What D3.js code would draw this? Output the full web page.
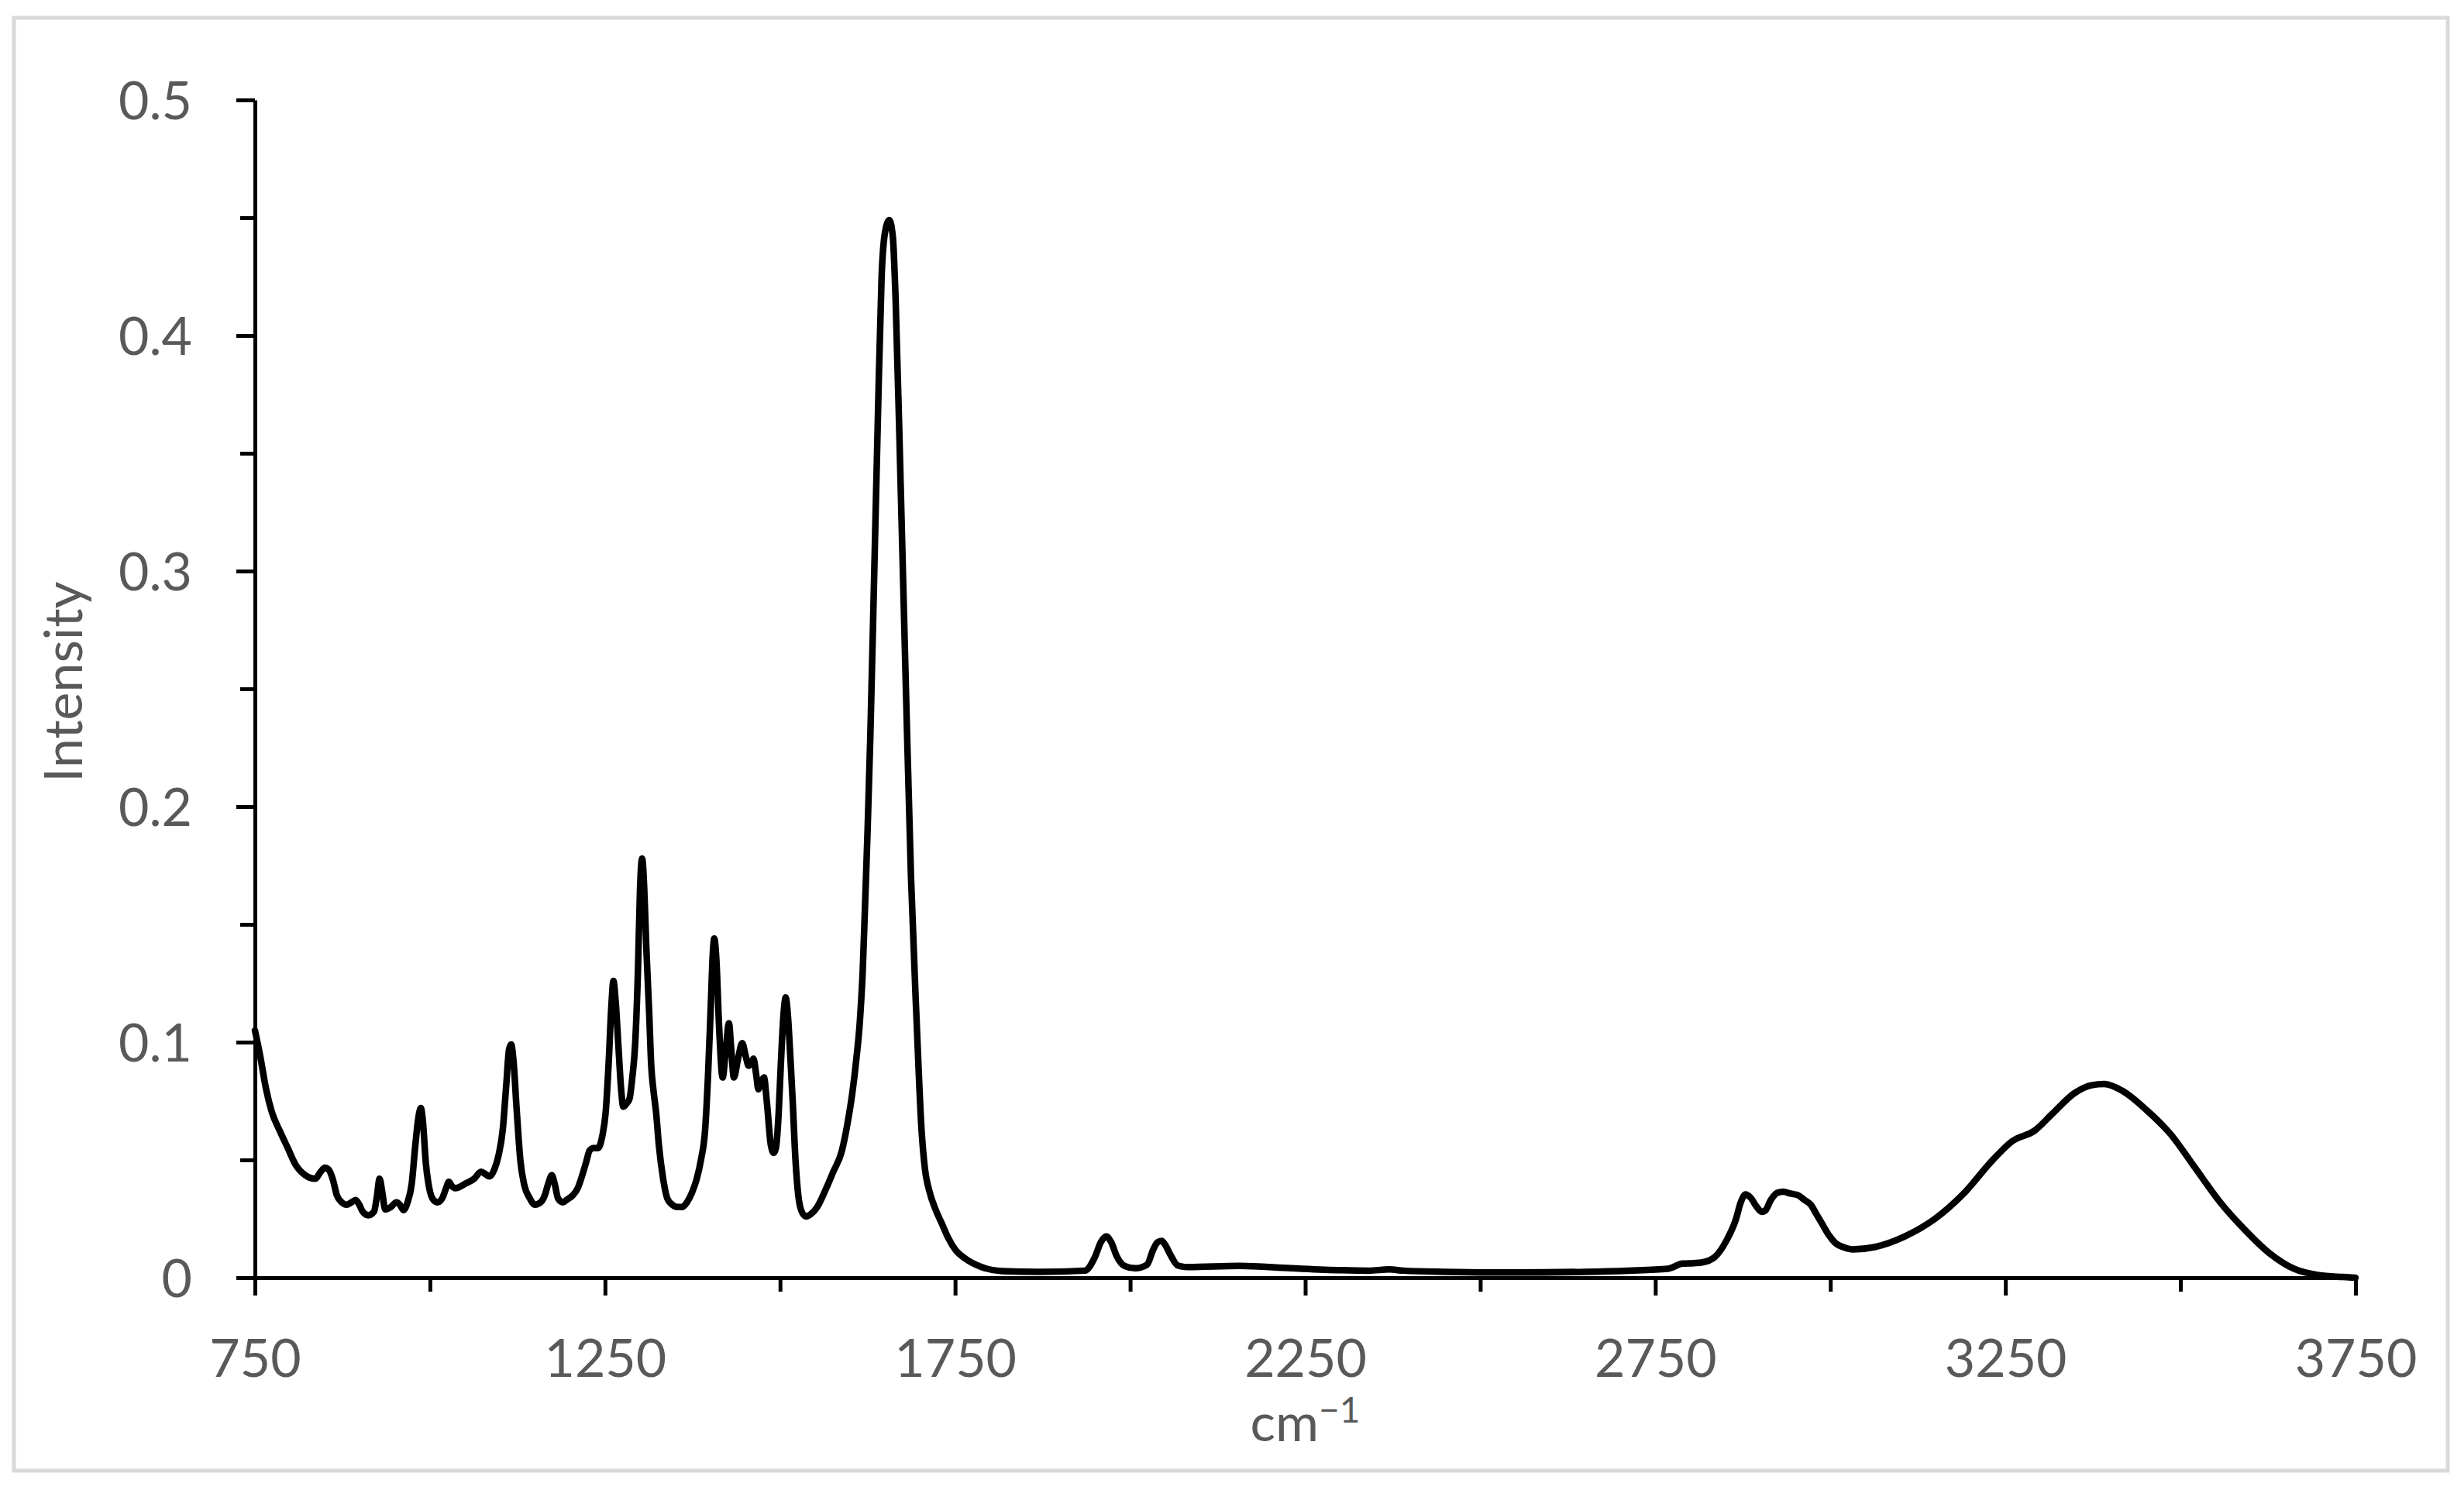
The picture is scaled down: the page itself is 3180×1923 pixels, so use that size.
<!DOCTYPE html>
<html>
<head>
<meta charset="utf-8">
<script src="https://cdn.jsdelivr.net/npm/d3@7"></script>
<style>
  body { margin: 0; background: #fff; }
  text { font-family: Lato, "Open Sans", sans-serif; fill: #595959; }
</style>
</head>
<body>
<div id="chart"></div>
<script>
// wavenumber (cm-1) and intensity
const wavenumbers = [
  750, 757, 766, 774, 786, 797, 808, 822, 836, 844, 850, 855, 861, 867, 874, 881, 888, 894, 899, 904,
  912, 920, 924, 928, 932, 936, 944, 952, 957, 962, 968, 974, 979, 984, 987, 990, 994, 999, 1005, 1011,
  1018, 1023, 1027, 1031, 1036, 1051, 1063, 1073, 1079, 1085, 1092, 1098, 1104, 1109, 1113, 1116, 1119, 1124, 1129, 1135,
  1142, 1150, 1158, 1164, 1169, 1174, 1178, 1183, 1190, 1195, 1204, 1211, 1218, 1223, 1228, 1233, 1240, 1246, 1251, 1255,
  1259, 1262, 1265, 1269, 1273, 1276, 1281, 1285, 1289, 1293, 1297, 1300, 1303, 1306, 1309, 1313, 1316, 1319, 1323, 1327,
  1333, 1339, 1346, 1353, 1360, 1367, 1374, 1381, 1387, 1393, 1397, 1401, 1404, 1406, 1409, 1413, 1418, 1422, 1427, 1430,
  1434, 1440, 1446, 1451, 1455, 1459, 1462, 1466, 1469, 1473, 1477, 1481, 1487, 1491, 1494, 1498, 1501, 1505, 1508, 1511,
  1515, 1518, 1522, 1526, 1531, 1537, 1544, 1553, 1566, 1576, 1588, 1596, 1603, 1609, 1614, 1618, 1621, 1625, 1629, 1634,
  1640, 1645, 1650, 1656, 1661, 1665, 1672, 1680, 1687, 1695, 1702, 1707, 1713, 1722, 1731, 1740, 1750, 1765, 1787, 1817,
  1870, 1935, 1950, 1958, 1966, 1973, 1981, 1992, 2007, 2024, 2033, 2039, 2045, 2050, 2057, 2068, 2083, 2156, 2230, 2300,
  2341, 2370, 2390, 2450, 2550, 2650, 2711, 2768, 2789, 2805, 2817, 2835, 2852, 2865, 2872, 2879, 2886, 2895, 2902, 2907,
  2915, 2924, 2933, 2943, 2954, 2963, 2972, 2980, 2989, 2998, 3007, 3020, 3032, 3063, 3106, 3148, 3190, 3232, 3260, 3292,
  3317, 3349, 3373, 3391, 3416, 3451, 3486, 3521, 3556, 3592, 3627, 3662, 3697, 3732, 3750
];
const intensity = [
  0.105, 0.095, 0.080, 0.0705, 0.062, 0.055, 0.048, 0.0435, 0.042, 0.045, 0.0467, 0.046, 0.042, 0.035, 0.032, 0.031, 0.032, 0.033, 0.031, 0.028,
  0.0265, 0.028, 0.034, 0.042, 0.036, 0.029, 0.030, 0.032, 0.031, 0.0287, 0.032, 0.040, 0.056, 0.069, 0.072, 0.066, 0.049, 0.038, 0.033, 0.032,
  0.034, 0.038, 0.0407, 0.039, 0.038, 0.040, 0.042, 0.045, 0.044, 0.043, 0.046, 0.052, 0.063, 0.082, 0.097, 0.099, 0.093, 0.0705, 0.050, 0.039,
  0.034, 0.031, 0.032, 0.035, 0.040, 0.0435, 0.040, 0.0336, 0.032, 0.033, 0.035, 0.038, 0.044, 0.049, 0.054, 0.055, 0.055, 0.060, 0.0705, 0.090,
  0.115, 0.126, 0.118, 0.099, 0.080, 0.0726, 0.074, 0.076, 0.085, 0.099, 0.130, 0.165, 0.178, 0.165, 0.140, 0.113, 0.090, 0.080, 0.070, 0.056,
  0.042, 0.0336, 0.031, 0.030, 0.030, 0.032, 0.036, 0.042, 0.050, 0.063, 0.085, 0.115, 0.138, 0.144, 0.135, 0.106, 0.085, 0.095, 0.108, 0.098,
  0.085, 0.093, 0.0996, 0.094, 0.090, 0.091, 0.093, 0.086, 0.080, 0.083, 0.085, 0.075, 0.056, 0.053, 0.055, 0.070, 0.090, 0.112, 0.119, 0.112,
  0.092, 0.075, 0.050, 0.035, 0.028, 0.026, 0.027, 0.030, 0.038, 0.045, 0.0536, 0.065, 0.078, 0.093, 0.109, 0.130, 0.155, 0.19, 0.231, 0.293,
  0.369, 0.425, 0.444, 0.449, 0.442, 0.4155, 0.339, 0.2467, 0.170, 0.109, 0.063, 0.046, 0.037, 0.029, 0.023, 0.017, 0.012, 0.008, 0.0046, 0.0028,
  0.0025, 0.0030, 0.009, 0.015, 0.0175, 0.015, 0.009, 0.0050, 0.0040, 0.0055, 0.012, 0.015, 0.0156, 0.014, 0.010, 0.0052, 0.0045, 0.0050, 0.0040, 0.0032,
  0.0030, 0.0035, 0.0030, 0.0025, 0.0022, 0.0025, 0.0030, 0.0038, 0.0060, 0.0062, 0.0065, 0.0088, 0.016, 0.0247, 0.032, 0.0354, 0.034, 0.030, 0.028, 0.0285,
  0.033, 0.0360, 0.0365, 0.0357, 0.035, 0.033, 0.031, 0.027, 0.0225, 0.018, 0.0148, 0.0128, 0.012, 0.013, 0.0175, 0.0247, 0.0356, 0.050, 0.058, 0.0625,
  0.0696, 0.0784, 0.0817, 0.0822, 0.0795, 0.0713, 0.0609, 0.0466, 0.0323, 0.0203, 0.0104, 0.0038, 0.0011, 0.0003, 0.0
];

const xTicks = [750, 1250, 1750, 2250, 2750, 3250, 3750];
const xMinorTicks = [1000, 1500, 2000, 2500, 3000, 3500];
const yTicks = [0, 0.1, 0.2, 0.3, 0.4, 0.5];
const yMinorTicks = [0.05, 0.15, 0.25, 0.35, 0.45];
const xTitle = "cm";
const xTitleSup = "−1";
const yTitle = "Intensity";

const width = 3180, height = 1923;
const margin = { left: 329, right: 140, top: 129, bottom: 274 };

const svg = d3.select("#chart").append("svg")
  .attr("width", width)
  .attr("height", height);

// light grey frame round the chart area
svg.append("rect")
  .attr("x", 18).attr("y", 23)
  .attr("width", 3141).attr("height", 1875)
  .attr("fill", "#fff")
  .attr("stroke", "#d9d9d9")
  .attr("stroke-width", 5);

const x = d3.scaleLinear()
  .domain([750, 3750])
  .range([margin.left, width - margin.right]);

const y = d3.scaleLinear()
  .domain([0, 0.5])
  .range([height - margin.bottom, margin.top]);

// minor ticks first, so main axes draw over them
svg.append("g")
  .attr("transform", "translate(0," + y(0) + ")")
  .call(d3.axisBottom(x).tickValues(xMinorTicks).tickSize(18).tickSizeOuter(0).tickFormat(""))
  .call(g => g.select(".domain").remove());

svg.append("g")
  .attr("transform", "translate(" + x(750) + ",0)")
  .call(d3.axisLeft(y).tickValues(yMinorTicks).tickSize(19).tickSizeOuter(0).tickFormat(""))
  .call(g => g.select(".domain").remove());

const xAxis = svg.append("g")
  .attr("transform", "translate(0," + y(0) + ")")
  .call(d3.axisBottom(x).tickValues(xTicks).tickSize(23).tickSizeOuter(0).tickFormat(d3.format("d")));

xAxis.selectAll("text")
  .attr("y", 128)
  .attr("dy", null)
  .style("font-size", "68px");

const yAxis = svg.append("g")
  .attr("transform", "translate(" + x(750) + ",0)")
  .call(d3.axisLeft(y).tickValues(yTicks).tickSize(24).tickSizeOuter(0)
    .tickFormat(d => d === 0 ? "0" : d3.format(".1f")(d)));

yAxis.selectAll("text")
  .attr("x", -81)
  .attr("dy", "0.36em")
  .style("font-size", "68px");

svg.selectAll(".domain, .tick line")
  .attr("stroke", "#000")
  .attr("stroke-width", 5);

// spectrum
const points = wavenumbers.map((w, i) => [w, intensity[i]]);

const line = d3.line()
  .x(d => x(d[0]))
  .y(d => y(d[1]))
  .curve(d3.curveMonotoneX);

svg.append("path")
  .datum(points)
  .attr("d", line)
  .attr("fill", "none")
  .attr("stroke", "#000")
  .attr("stroke-width", 8.5)
  .attr("stroke-linejoin", "round")
  .attr("stroke-linecap", "round");

// axis titles
const xt = svg.append("text")
  .attr("x", (x(750) + x(3750)) / 2)
  .attr("y", 1860)
  .attr("text-anchor", "middle")
  .style("font-size", "68px");
xt.append("tspan").text(xTitle);
xt.append("tspan")
  .attr("dy", -24)
  .style("font-size", "46px")
  .text(xTitleSup);

svg.append("text")
  .attr("transform", "translate(106," + 880 + ") rotate(-90)")
  .attr("text-anchor", "middle")
  .style("font-size", "68px")
  .text(yTitle);
</script>
</body>
</html>
